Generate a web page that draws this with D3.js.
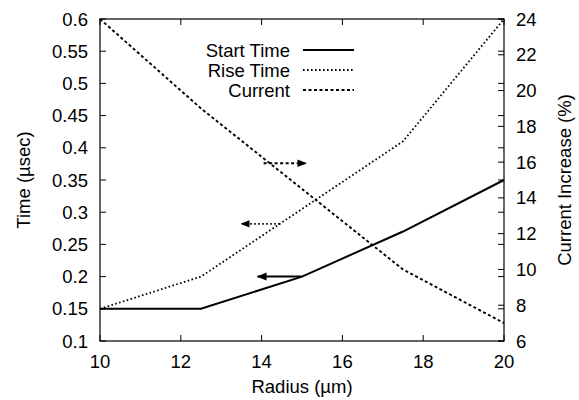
<!DOCTYPE html>
<html>
<head>
<meta charset="utf-8">
<script src="https://cdn.jsdelivr.net/npm/d3@7"></script>
<style>
  body { margin: 0; background: #fff; }
  text { font-family: "Liberation Sans", Arial, sans-serif; fill: #000; }
</style>
</head>
<body>
<svg id="chart"></svg>
<script>
// values
const radius = [10, 12.5, 15, 17.5, 20]
const startTime = [0.15, 0.15, 0.2, 0.27, 0.35]
const riseTime = [0.15, 0.2, 0.305, 0.41, 0.6]
const currentInc = [24, 19.0, 14.5, 10, 7]

const xTicks = [10, 12, 14, 16, 18, 20]
const yTicks = [0.1, 0.15, 0.2, 0.25, 0.3, 0.35, 0.4, 0.45, 0.5, 0.55, 0.6]
const y2Ticks = [6, 8, 10, 12, 14, 16, 18, 20, 22, 24]

// arrows pointing to the axis each curve uses: [x1, y1, x2, y2] in data units
const arrowStart = [15, 0.2, 13.9, 0.2]
const arrowRise = [14.45, 0.282, 13.5, 0.282]
const arrowCurrent = [14.05, 0.376, 15.1, 0.376]

const legendNames = ["Start Time", "Rise Time", "Current"]

const W = 579, H = 400
const margin = { top: 19, right: 75, bottom: 59, left: 100 }
const width = W - margin.left - margin.right
const height = H - margin.top - margin.bottom
const fontSize = "18.5px"

const svg = d3.select("#chart").attr("width", W).attr("height", H)
const g = svg.append("g").attr("transform", `translate(${margin.left},${margin.top})`)

const x = d3.scaleLinear().domain([10, 20]).range([0, width])
const y = d3.scaleLinear().domain([0.1, 0.6]).range([height, 0])
const y2 = d3.scaleLinear().domain([6, 24]).range([height, 0])

const styles = {
    solid: { w: 2, dash: null },
    dotted: { w: 1.8, dash: "1.6,2.4" },
    dashed: { w: 1.9, dash: "3,2.5" }
}

// ticks (inward) on all sides, gnuplot style
const tickLen = 6
const fmt = d => String(d)

g.selectAll(".xb").data(xTicks).enter().append("line")
    .attr("x1", d => x(d)).attr("x2", d => x(d))
    .attr("y1", height).attr("y2", height - tickLen)
    .attr("stroke", "#000")
g.selectAll(".xt").data(xTicks).enter().append("line")
    .attr("x1", d => x(d)).attr("x2", d => x(d))
    .attr("y1", 0).attr("y2", tickLen)
    .attr("stroke", "#000")
g.selectAll(".yl").data(yTicks).enter().append("line")
    .attr("x1", 0).attr("x2", tickLen)
    .attr("y1", d => y(d)).attr("y2", d => y(d))
    .attr("stroke", "#000")
g.selectAll(".yr").data(yTicks).enter().append("line")
    .attr("x1", width).attr("x2", width - tickLen)
    .attr("y1", d => y(d)).attr("y2", d => y(d))
    .attr("stroke", "#000")
g.selectAll(".y2r").data(y2Ticks).enter().append("line")
    .attr("x1", width).attr("x2", width - tickLen)
    .attr("y1", d => y2(d)).attr("y2", d => y2(d))
    .attr("stroke", "#000")

// tick labels
g.selectAll(".xlab").data(xTicks).enter().append("text")
    .attr("x", d => x(d)).attr("y", height + 27)
    .attr("text-anchor", "middle").style("font-size", fontSize)
    .text(fmt)
g.selectAll(".ylab").data(yTicks).enter().append("text")
    .attr("x", -12).attr("y", d => y(d) + 6.5)
    .attr("text-anchor", "end").style("font-size", fontSize)
    .text(fmt)
g.selectAll(".y2lab").data(y2Ticks).enter().append("text")
    .attr("x", width + 12).attr("y", d => y2(d) + 6.5)
    .attr("text-anchor", "start").style("font-size", fontSize)
    .text(fmt)

// frame
g.append("rect").attr("width", width).attr("height", height)
    .attr("fill", "none").attr("stroke", "#000").attr("stroke-width", 1.2)

// axis titles
svg.append("text").attr("x", margin.left + width / 2).attr("y", 393)
    .attr("text-anchor", "middle").style("font-size", fontSize).text("Radius (µm)")
svg.append("text").attr("transform", `translate(30,${margin.top + height / 2}) rotate(-90)`)
    .attr("text-anchor", "middle").style("font-size", fontSize).text("Time (µsec)")
svg.append("text").attr("transform", `translate(571,${margin.top + height / 2}) rotate(-90)`)
    .attr("text-anchor", "middle").style("font-size", fontSize).text("Current Increase (%)")

// series
const lineY = d3.line().x((d, i) => x(radius[i])).y(d => y(d))
const lineY2 = d3.line().x((d, i) => x(radius[i])).y(d => y2(d))

const drawPath = (data, gen, st) => g.append("path")
    .datum(data).attr("d", gen)
    .attr("fill", "none").attr("stroke", "#000")
    .attr("stroke-width", st.w).attr("stroke-dasharray", st.dash)

drawPath(startTime, lineY, styles.solid)
drawPath(riseTime, lineY, styles.dotted)
drawPath(currentInc, lineY2, styles.dashed)

// arrows
const defs = svg.append("defs")
defs.append("marker").attr("id", "head")
    .attr("viewBox", "0 0 10 10").attr("refX", 9).attr("refY", 5)
    .attr("markerWidth", 5).attr("markerHeight", 5)
    .attr("markerUnits", "strokeWidth").attr("orient", "auto")
    .append("path").attr("d", "M0,1 L10,5 L0,9 z").attr("fill", "#000")

const drawArrow = (a, st) => g.append("line")
    .attr("x1", x(a[0])).attr("y1", y(a[1]))
    .attr("x2", x(a[2])).attr("y2", y(a[3]))
    .attr("stroke", "#000").attr("stroke-width", st.w)
    .attr("stroke-dasharray", st.dash)
    .attr("marker-end", "url(#head)")

drawArrow(arrowStart, styles.solid)
drawArrow(arrowRise, styles.dotted)
drawArrow(arrowCurrent, styles.dashed)

// legend
const legend = svg.append("g").attr("transform", "translate(290,50)")
const legendStyles = [styles.solid, styles.dotted, styles.dashed]
legendNames.forEach((name, i) => {
    const row = legend.append("g").attr("transform", `translate(0,${i * 20})`)
    row.append("text").attr("x", 0).attr("y", 6.5)
        .attr("text-anchor", "end").style("font-size", fontSize).text(name)
    row.append("line").attr("x1", 13).attr("x2", 64).attr("y1", 0).attr("y2", 0)
        .attr("stroke", "#000").attr("stroke-width", legendStyles[i].w)
        .attr("stroke-dasharray", legendStyles[i].dash)
})
</script>
</body>
</html>
